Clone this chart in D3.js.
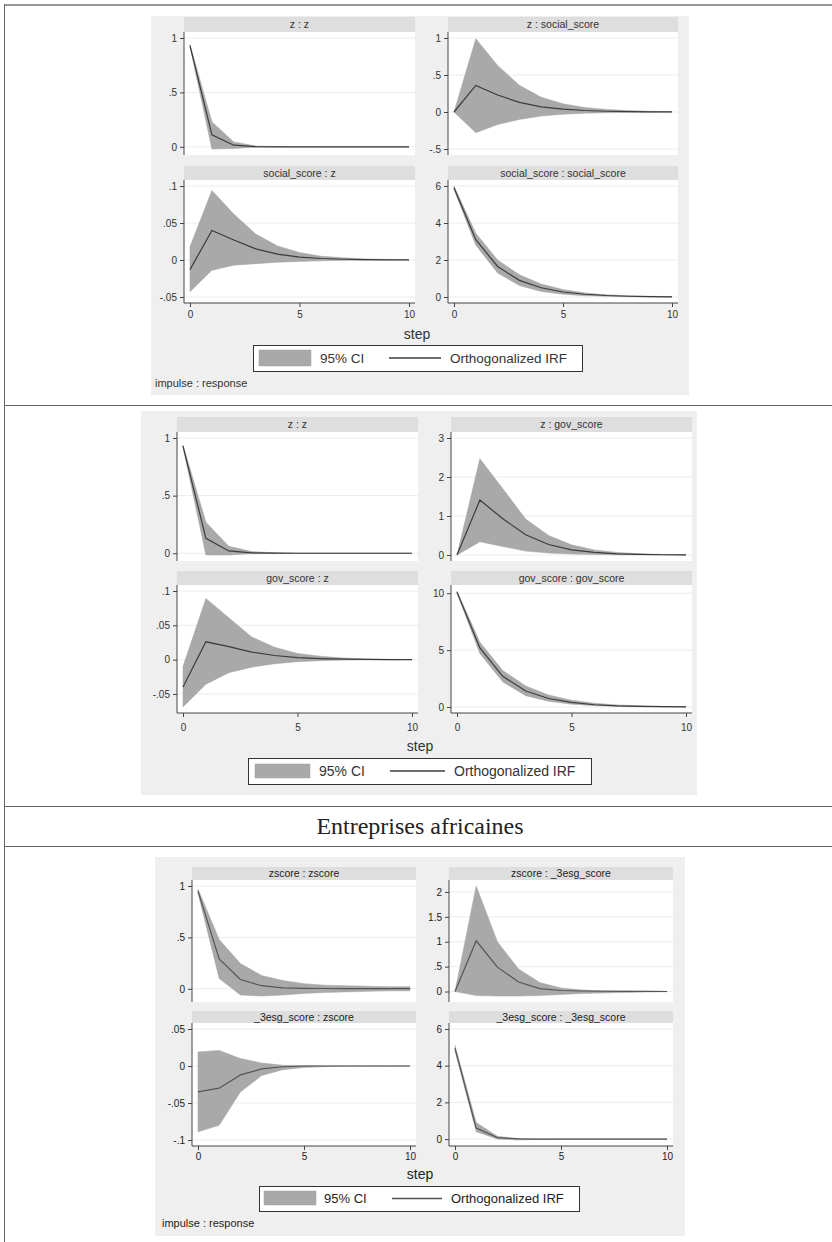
<!DOCTYPE html>
<html><head><meta charset="utf-8">
<script src="https://cdn.jsdelivr.net/npm/d3@7"></script>
<style>body{margin:0;background:#fff} svg{display:block}</style>
</head><body><svg id="c" width="832" height="1242"></svg>
<script>
// ---------- DATA ----------
const steps = [0,1,2,3,4,5,6,7,8,9,10];
const xTicks = [0,5,10];

// Graph 1
const g1_titles = ["z : z","z : social_score","social_score : z","social_score : social_score"];
const g1_yticks = [[0,.5,1],[-.5,0,.5,1],[-.05,0,.05,.1],[0,2,4,6]];
const g1_zz_irf = [0.93,0.11,0.015,0.002,0.0003,0,0,0,0,0,0];
const g1_zz_lo  = [0.92,-0.02,-0.015,-0.004,-0.001,0,0,0,0,0,0];
const g1_zz_hi  = [0.94,0.23,0.045,0.008,0.002,0.0005,0,0,0,0,0];
const g1_zs_irf = [0,0.36,0.23,0.13,0.07,0.04,0.02,0.01,0.005,0.002,0.001];
const g1_zs_lo  = [0,-0.28,-0.17,-0.10,-0.055,-0.03,-0.017,-0.01,-0.005,-0.003,-0.001];
const g1_zs_hi  = [0,0.99,0.63,0.36,0.20,0.11,0.06,0.035,0.02,0.01,0.005];
const g1_sz_irf = [-0.013,0.040,0.027,0.015,0.008,0.004,0.002,0.001,0.0005,0.0002,0.0001];
const g1_sz_lo  = [-0.043,-0.014,-0.007,-0.005,-0.003,-0.002,-0.001,-0.0005,-0.0002,-0.0001,0];
const g1_sz_hi  = [0.018,0.094,0.062,0.035,0.019,0.010,0.005,0.003,0.0015,0.0008,0.0004];
const g1_ss_irf = [5.9,3.1,1.65,0.9,0.5,0.27,0.15,0.08,0.04,0.02,0.01];
const g1_ss_lo  = [5.8,2.8,1.3,0.62,0.3,0.15,0.07,0.035,0.015,0.007,0.003];
const g1_ss_hi  = [6.0,3.45,2.0,1.2,0.7,0.4,0.22,0.12,0.07,0.04,0.02];

// Graph 2
const g2_titles = ["z : z","z : gov_score","gov_score : z","gov_score : gov_score"];
const g2_yticks = [[0,.5,1],[0,1,2,3],[-.05,0,.05,.1],[0,5,10]];
const g2_zz_irf = [0.93,0.13,0.02,0.004,0.001,0,0,0,0,0,0];
const g2_zz_lo  = [0.92,-0.015,-0.015,-0.005,-0.002,0,0,0,0,0,0];
const g2_zz_hi  = [0.94,0.27,0.06,0.015,0.004,0.001,0,0,0,0,0];
const g2_zg_irf = [0,1.41,0.93,0.52,0.27,0.13,0.065,0.03,0.015,0.007,0.003];
const g2_zg_lo  = [0,0.34,0.22,0.10,0.05,0.025,0.012,0.006,0.003,0.001,0];
const g2_zg_hi  = [0,2.47,1.70,0.92,0.50,0.26,0.13,0.065,0.03,0.015,0.007];
const g2_gz_irf = [-0.040,0.026,0.019,0.011,0.006,0.003,0.0015,0.0007,0.0003,0.0001,0];
const g2_gz_lo  = [-0.069,-0.036,-0.019,-0.011,-0.006,-0.003,-0.0015,-0.0007,-0.0003,-0.0001,0];
const g2_gz_hi  = [-0.010,0.089,0.061,0.033,0.018,0.009,0.005,0.0025,0.001,0.0005,0.0002];
const g2_gg_irf = [10.1,5.2,2.7,1.4,0.75,0.4,0.2,0.1,0.05,0.025,0.01];
const g2_gg_lo  = [10.0,4.7,2.2,1.0,0.5,0.25,0.12,0.06,0.03,0.015,0.007];
const g2_gg_hi  = [10.2,5.7,3.2,1.85,1.05,0.6,0.33,0.18,0.1,0.05,0.03];

// Graph 3
const g3_heading = "Entreprises africaines";
const g3_titles = ["zscore : zscore","zscore : _3esg_score","_3esg_score : zscore","_3esg_score : _3esg_score"];
const g3_yticks = [[0,.5,1],[0,.5,1,1.5,2],[-.1,-.05,0,.05],[0,2,4,6]];
const g3_zz_irf = [0.95,0.29,0.09,0.03,0.01,0.005,0.003,0.002,0.001,0.001,0.001];
const g3_zz_lo  = [0.93,0.10,-0.06,-0.07,-0.06,-0.045,-0.035,-0.03,-0.025,-0.02,-0.02];
const g3_zz_hi  = [0.97,0.48,0.245,0.13,0.08,0.05,0.035,0.03,0.025,0.02,0.02];
const g3_ze_irf = [0,1.02,0.49,0.19,0.06,0.02,0.01,0.005,0.002,0.001,0];
const g3_ze_lo  = [0,-0.08,-0.09,-0.09,-0.08,-0.06,-0.04,-0.03,-0.02,-0.01,-0.005];
const g3_ze_hi  = [0,2.12,1.0,0.45,0.18,0.07,0.03,0.015,0.01,0.005,0.002];
const g3_ez_irf = [-0.035,-0.030,-0.012,-0.004,-0.001,0,0,0,0,0,0];
const g3_ez_lo  = [-0.089,-0.080,-0.035,-0.013,-0.005,-0.002,-0.001,0,0,0,0];
const g3_ez_hi  = [0.019,0.021,0.010,0.004,0.001,0.0005,0,0,0,0,0];
const g3_ee_irf = [4.95,0.6,0.08,0.01,0,0,0,0,0,0,0];
const g3_ee_lo  = [4.8,0.4,0.0,-0.05,-0.02,0,0,0,0,0,0];
const g3_ee_hi  = [5.1,0.9,0.15,0.03,0.01,0,0,0,0,0,0];

const legendLabels = ["95% CI","Orthogonalized IRF"];
const xTitle = "step";
const noteText = "impulse : response";

// ---------- LAYOUT ----------
const graphs = [
  { titles:g1_titles, yticks:g1_yticks,
    series:[[g1_zz_irf,g1_zz_lo,g1_zz_hi],[g1_zs_irf,g1_zs_lo,g1_zs_hi],[g1_sz_irf,g1_sz_lo,g1_sz_hi],[g1_ss_irf,g1_ss_lo,g1_ss_hi]],
    bg:{x:151,y:16,w:538,h:379}, cols:[[184,415],[448,678]], rows:[[17,32,155],[166,180,303]],
    xlabY:318, stepY:339, stepX:417,
    leg:{x:253,y:345,w:329,h:26,sw:[259,311,350,366],t1:320,ln:[389,441],t2:450,fs:13.5},
    note:{x:155,y:387}, ink:"#333", line:"#3c3c3c" },
  { titles:g2_titles, yticks:g2_yticks,
    series:[[g2_zz_irf,g2_zz_lo,g2_zz_hi],[g2_zg_irf,g2_zg_lo,g2_zg_hi],[g2_gz_irf,g2_gz_lo,g2_gz_hi],[g2_gg_irf,g2_gg_lo,g2_gg_hi]],
    bg:{x:141,y:411,w:556,h:384}, cols:[[177,418],[451,692]], rows:[[417,432,561],[571,585,713]],
    xlabY:731, stepY:751, stepX:420,
    leg:{x:248,y:758,w:343,h:26,sw:[255,310,764,778],t1:319,ln:[390,445],t2:454,fs:14},
    note:{x:145,y:803}, ink:"#333", line:"#3c3c3c" },
  { titles:g3_titles, yticks:g3_yticks,
    series:[[g3_zz_irf,g3_zz_lo,g3_zz_hi],[g3_ze_irf,g3_ze_lo,g3_ze_hi],[g3_ez_irf,g3_ez_lo,g3_ez_hi],[g3_ee_irf,g3_ee_lo,g3_ee_hi]],
    bg:{x:155,y:857,w:530,h:379}, cols:[[192,416],[449,673]], rows:[[867,880,1002],[1011,1023,1146]],
    xlabY:1160, stepY:1179, stepX:420,
    leg:{x:259,y:1186,w:320,h:25,sw:[264,316,1191,1205],t1:324,ln:[392,442],t2:451,fs:13},
    note:{x:162,y:1227}, ink:"#222", line:"#555" }
];

const svg = d3.select("#c");
const FONT = "'Liberation Sans', Arial, sans-serif";

// table borders
const tbl = svg.append("g");
tbl.append("line").attr("x1",4).attr("x2",832).attr("y1",5).attr("y2",5).attr("stroke","#999").attr("stroke-width",2);
tbl.append("line").attr("x1",4.5).attr("x2",4.5).attr("y1",4).attr("y2",1242).attr("stroke","#666").attr("stroke-width",1);
[405.5,806.5,846.5].forEach(y=>{
  tbl.append("line").attr("x1",4).attr("x2",832).attr("y1",y).attr("y2",y).attr("stroke","#666").attr("stroke-width",1.2);
});
tbl.append("text").attr("x",420).attr("y",834).attr("text-anchor","middle")
  .attr("font-family","'Liberation Serif','DejaVu Serif',serif").attr("font-size",24).attr("fill","#222").text(g3_heading);

function fmt(v){
  let s = String(+v.toFixed(4));
  return s.replace(/^0\./,".").replace(/^-0\./,"-.");
}

graphs.forEach((G,gi)=>{
  const g = svg.append("g");
  const cid = "clip"+gi;
  svg.append("defs").append("clipPath").attr("id",cid).append("rect")
    .attr("x",G.bg.x).attr("y",G.bg.y).attr("width",G.bg.w).attr("height",G.bg.h);
  const gc = g.append("g").attr("clip-path",`url(#${cid})`);
  gc.append("rect").attr("x",G.bg.x).attr("y",G.bg.y).attr("width",G.bg.w).attr("height",G.bg.h).attr("fill","#efefef");

  for(let p=0;p<4;p++){
    const [cx0,cx1] = G.cols[p%2];
    const [s0,s1,p1] = G.rows[Math.floor(p/2)];
    const [irf,lo,hi] = G.series[p];
    const ticks = G.yticks[p];
    // strip
    gc.append("rect").attr("x",cx0).attr("y",s0).attr("width",cx1-cx0).attr("height",s1-s0).attr("fill","#dedede");
    gc.append("text").attr("x",(cx0+cx1)/2).attr("y",(s0+s1)/2+3.8).attr("text-anchor","middle")
      .attr("font-family",FONT).attr("font-size",10.5).attr("fill",G.ink).text(G.titles[p]);
    // plot region
    gc.append("rect").attr("x",cx0).attr("y",s1).attr("width",cx1-cx0).attr("height",p1-s1).attr("fill","#fff");
    const x = d3.scaleLinear().domain([0,10]).range([cx0+6,cx1-6]);
    const ext = d3.extent([...ticks,...irf,...lo,...hi]);
    const y = d3.scaleLinear().domain(ext).range([p1-6,s1+6]);
    // grid
    gc.append("g").selectAll("line").data(ticks).join("line")
      .attr("x1",cx0).attr("x2",cx1).attr("y1",d=>y(d)).attr("y2",d=>y(d))
      .attr("stroke","#ececec").attr("stroke-width",1);
    // CI area
    const pts = steps.map((s,i)=>({s,lo:lo[i],hi:hi[i],v:irf[i]}));
    gc.append("path").datum(pts)
      .attr("d",d3.area().x(d=>x(d.s)).y0(d=>y(d.lo)).y1(d=>y(d.hi)))
      .attr("fill","#a9a9a9").attr("stroke","#a3a3a3").attr("stroke-width",0.5);
    gc.append("path").datum(pts)
      .attr("d",d3.line().x(d=>x(d.s)).y(d=>y(d.v)))
      .attr("fill","none").attr("stroke",G.line).attr("stroke-width",1.2);
    // y axis
    const ya = gc.append("g").attr("transform",`translate(${cx0},0)`)
      .call(d3.axisLeft(y).tickValues(ticks).tickFormat(fmt).tickSize(4).tickPadding(3).tickSizeOuter(0));
    ya.select(".domain").attr("d",`M0,${s1}V${p1}`).attr("stroke","#444");
    ya.selectAll(".tick line").attr("stroke","#444");
    ya.selectAll(".tick text").attr("font-family",FONT).attr("font-size",10).attr("fill",G.ink);
    // x axis for bottom row
    if(p>=2){
      const xa = gc.append("g").attr("transform",`translate(0,${p1})`)
        .call(d3.axisBottom(x).tickValues(xTicks).tickFormat(d3.format("d")).tickSize(4).tickPadding(3).tickSizeOuter(0));
      xa.select(".domain").attr("d",`M${cx0},0H${cx1}`).attr("stroke","#444");
      xa.selectAll(".tick line").attr("stroke","#444");
      xa.selectAll(".tick text").attr("font-family",FONT).attr("font-size",10).attr("fill",G.ink)
        .attr("dy",null).attr("y",G.xlabY-p1);
    }
  }
  // x title
  gc.append("text").attr("x",G.stepX).attr("y",G.stepY).attr("text-anchor","middle")
    .attr("font-family",FONT).attr("font-size",14).attr("fill",G.ink).text(xTitle);
  // legend
  const L = G.leg;
  gc.append("rect").attr("x",L.x+0.5).attr("y",L.y+0.5).attr("width",L.w).attr("height",L.h)
    .attr("fill","#fff").attr("stroke","#333").attr("stroke-width",1);
  gc.append("rect").attr("x",L.sw[0]).attr("y",L.sw[2]).attr("width",L.sw[1]-L.sw[0]).attr("height",L.sw[3]-L.sw[2])
    .attr("fill","#a9a9a9").attr("stroke","#a3a3a3").attr("stroke-width",0.5);
  const ly = L.y + L.h/2;
  gc.append("text").attr("x",L.t1).attr("y",ly+L.fs*0.36).attr("font-family",FONT).attr("font-size",L.fs).attr("fill",G.ink).text(legendLabels[0]);
  gc.append("line").attr("x1",L.ln[0]).attr("x2",L.ln[1]).attr("y1",ly).attr("y2",ly).attr("stroke",G.line).attr("stroke-width",1.3);
  gc.append("text").attr("x",L.t2).attr("y",ly+L.fs*0.36).attr("font-family",FONT).attr("font-size",L.fs).attr("fill",G.ink).text(legendLabels[1]);
  // note
  gc.append("text").attr("x",G.note.x).attr("y",G.note.y).attr("font-family",FONT).attr("font-size",11).attr("fill",G.ink).text(noteText);
});
</script></body></html>
